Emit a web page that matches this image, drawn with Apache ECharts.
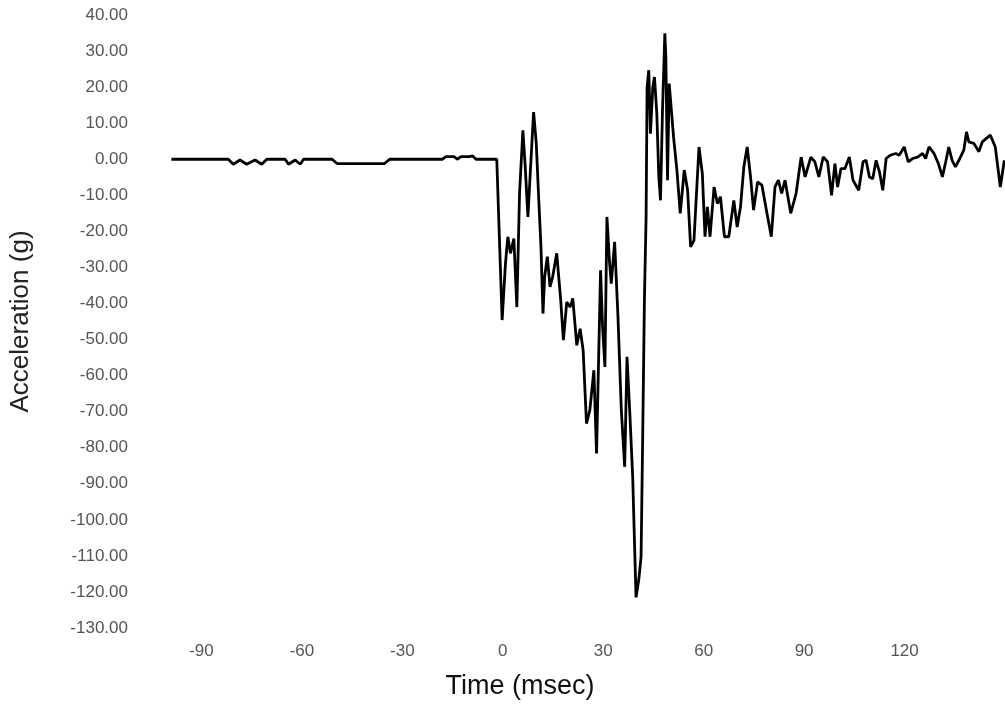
<!DOCTYPE html>
<html>
<head>
<meta charset="utf-8">
<script src="https://cdn.jsdelivr.net/npm/echarts@6/dist/echarts.min.js"></script>
<style>
  html, body { margin: 0; padding: 0; background: #fff; }
  #chart { width: 1005px; height: 708px; }
</style>
</head>
<body>
<div id="chart"></div>
<script>
const xTicks = [-90, -60, -30, 0, 30, 60, 90, 120];
const xLabel = 'Time (msec)';
const yLabel = 'Acceleration (g)';

const timeMs = [
  -99, -82, -80.5, -78.5, -76.5, -74, -72, -70.5, -65, -64, -62, -60.5, -59.5,
  -51, -49.5, -35.3, -33.8, -18, -17, -14.5, -13.6, -12.5, -10, -9, -8, -1.8,
  -0.2, 0.8, 1.5, 2.3, 3.3, 4.2, 5.0, 6.0, 6.7, 7.5, 8.2, 9.2, 10.0, 10.7, 11.4,
  12.0, 12.5, 13.3, 14.1, 14.9, 16.1, 17.3, 18.1, 19.1, 20.1, 20.9, 22.1, 23.1,
  24.0, 25.0, 26.0, 27.2, 28.0, 28.5, 29.2, 29.8, 30.5, 31.1, 31.9, 32.4, 33.4,
  34.4, 35.4, 36.4, 37.1, 37.9, 38.8, 39.4, 39.8, 40.6, 41.3, 41.8, 42.3, 42.8,
  43.1, 43.6, 44.1, 44.8, 45.3, 46.0, 46.6, 47.1, 47.7, 48.4, 48.7, 49.2, 49.7,
  50.2, 51.0, 52.0, 53.0, 54.2, 55.2, 56.1, 57.1, 58.6, 59.6, 60.4, 61.1, 61.9,
  63.1, 64.1, 65.0, 66.2, 67.5, 69.0, 70.0, 71.0, 72.0, 73.0, 74.0, 74.9, 76.1,
  77.4, 78.9, 80.2, 81.3, 82.3, 83.3, 84.3, 86.0, 87.6, 89.1, 90.3, 92.0, 93.2,
  94.4, 95.7, 97.0, 98.2, 99.2, 100.0, 101.0, 102.2, 103.5, 104.6, 106.3, 107.6,
  108.5, 109.5, 110.5, 111.5, 112.5, 113.5, 114.5, 115.7, 117.4, 118.4, 119.9,
  121.1, 122.4, 123.9, 125.4, 126.3, 127.3, 128.8, 130.1, 131.3, 132.3, 133.2,
  134.2, 135.2, 136.5, 137.7, 138.5, 139.2, 140.7, 142.2, 143.2, 145.6, 147.1,
  148.6, 149.8
];
const accel = [
  0, 0, -1.4, -0.2, -1.4, -0.2, -1.4, 0, 0, -1.4, -0.2, -1.4, 0,
  0, -1.2, -1.2, 0, 0, 0.7, 0.7, 0, 0.7, 0.7, 0.9, 0, 0,
  -44.6, -28.9, -21.5, -26.1, -22, -41, -9.5, 8.0, -2.1, -16, -3.9, 13.1, 4.4, -10.4, -24.3,
  -42.8, -32.6, -27, -35.4, -32.6, -26.1, -39.1, -50.2, -39.6, -41, -38.6, -51.6, -47,
  -53, -73.3, -69.6, -58.5, -81.6, -60.4, -30.8, -46.5, -57.6, -16, -28.9, -34.5, -22.9,
  -43.7, -69.6, -85.3, -54.8, -69.6, -88.1, -108.4, -121.5, -116.7, -110.3, -76, -39, -16,
  20, 24.7, 7.1, 20, 22.8, 12.7, -4.9, -11.4, 13.6, 34.9, 28.4, -5.8, 21,
  21, 6.2, -3, -15, -3, -8.6, -24.3, -22.5, 3.4, -4, -21.5, -13.2, -21.5,
  -7.7, -12.3, -10.4, -21.5, -21.5, -11.4, -18.8, -13.2, -2.1, 3.4, -4.9, -14.1, -6.3,
  -7.2, -15, -21.5, -7.7, -5.8, -9.5, -5.8, -15, -9.5, 0.6, -4.9, 0.6, -0.7,
  -4.9, 0.6, -0.7, -10, -1.2, -7.7, -2.6, -2.6, 0.6, -5.8, -8.6, -0.7,
  -0.3, -4.9, -5.4, -0.3, -3.5, -8.6, 0.2, 1.1, 1.6, 1.1, 3.4,
  -0.7, 0.2, 0.6, 1.6, 0.2, 3.4, 1.6, -1.2, -4.9, -0.7, 3.4,
  -0.3, -2.1, 0.2, 2.5, 7.6, 4.8, 4.4, 2.1, 4.8, 6.7, 3.4,
  -7.7, -0.3
];

const seriesData = timeMs.map((t, i) => [t, accel[i]]);

const chart = echarts.init(document.getElementById('chart'), null, { renderer: 'canvas' });
chart.setOption({
  animation: false,
  backgroundColor: '#ffffff',
  title: {
    text: xLabel,
    left: 515,
    top: 668,
    textAlign: 'center',
    textStyle: { fontFamily: 'Liberation Sans', fontSize: 27, fontWeight: 'normal', color: '#111' }
  },
  grid: { left: 162, right: 0, top: 15, bottom: 80 },
  xAxis: {
    type: 'value',
    min: -100,
    max: 150,
    axisLine: { show: false },
    axisTick: { show: false },
    splitLine: { show: false },
    axisLabel: {
      customValues: xTicks,
      margin: 15,
      fontFamily: 'Liberation Sans',
      fontSize: 17,
      color: '#555'
    }
  },
  yAxis: {
    type: 'value',
    min: -130,
    max: 40,
    interval: 10,
    name: yLabel,
    nameLocation: 'middle',
    nameRotate: 90,
    nameGap: 134,
    nameTextStyle: { fontFamily: 'Liberation Sans', fontSize: 26, color: '#222' },
    axisLine: { show: false },
    axisTick: { show: false },
    splitLine: { show: false },
    axisLabel: {
      margin: 40,
      fontFamily: 'Liberation Sans',
      fontSize: 17,
      color: '#555',
      formatter: v => v.toFixed(2)
    }
  },
  series: [{
    type: 'line',
    data: seriesData,
    showSymbol: false,
    symbol: 'none',
    lineStyle: { color: '#000', width: 2.8 },
    clip: true
  }]
});
</script>
</body>
</html>
